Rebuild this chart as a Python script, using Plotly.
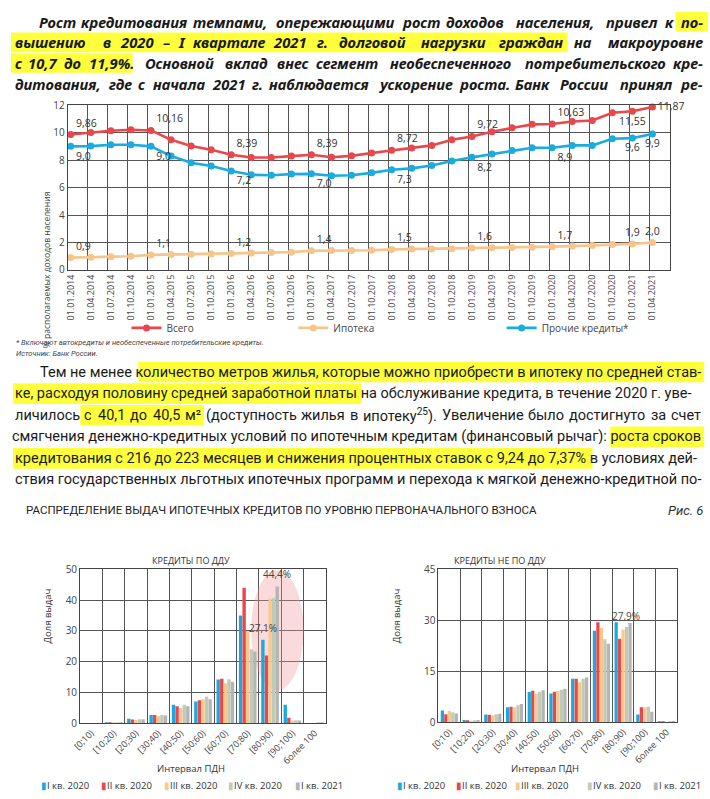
import re
import plotly.graph_objects as go

W, H = 710, 799
def X(p): return p / W
def Y(p): return 1 - p / H

# ---------------- data ----------------
dates = ["01.01.2014", "01.04.2014", "01.07.2014", "01.10.2014",
         "01.01.2015", "01.04.2015", "01.07.2015", "01.10.2015",
         "01.01.2016", "01.04.2016", "01.07.2016", "01.10.2016",
         "01.01.2017", "01.04.2017", "01.07.2017", "01.10.2017",
         "01.01.2018", "01.04.2018", "01.07.2018", "01.10.2018",
         "01.01.2019", "01.04.2019", "01.07.2019", "01.10.2019",
         "01.01.2020", "01.04.2020", "01.07.2020", "01.10.2020",
         "01.01.2021", "01.04.2021"]
total_burden = [9.86, 10.0, 10.14, 10.21, 10.16, 9.48, 9.02, 8.76, 8.39, 8.19,
                8.19, 8.29, 8.39, 8.21, 8.31, 8.52, 8.72, 8.88, 9.07, 9.48,
                9.72, 10.07, 10.36, 10.6, 10.63, 10.81, 10.88, 11.45, 11.55, 11.87]
mortgage_burden = [0.9, 0.93, 0.97, 1.0, 1.1, 1.12, 1.14, 1.16, 1.2, 1.23,
                   1.27, 1.3, 1.4, 1.41, 1.42, 1.44, 1.5, 1.52, 1.53, 1.55,
                   1.6, 1.62, 1.64, 1.66, 1.7, 1.74, 1.78, 1.85, 1.9, 2.0]
other_burden = [9.0, 9.02, 9.12, 9.12, 9.0, 8.29, 7.81, 7.57, 7.2, 6.93,
                6.9, 6.98, 7.0, 6.86, 6.9, 7.07, 7.3, 7.4, 7.6, 7.93,
                8.2, 8.45, 8.69, 8.9, 8.9, 9.07, 9.07, 9.55, 9.6, 9.9]
label_idx = [0, 4, 8, 12, 16, 20, 24, 28, 29]

pdn_bins = ["[0;10)", "[10;20)", "[20;30)", "[30;40)", "[40;50)", "[50;60)",
            "[60;70)", "[70;80)", "[80;90)", "[90;100)", "более 100"]
quarters = ["I кв. 2020", "II кв. 2020", "III кв. 2020", "IV кв. 2020", "I кв. 2021"]

ddu_q1_2020 = [0.0, 0.3, 1.5, 2.7, 6.0, 7.1, 14.2, 35.0, 27.1, 6.0, 0.0]
ddu_q2_2020 = [0.0, 0.3, 1.2, 2.7, 5.5, 7.5, 14.5, 44.0, 22.0, 1.8, 0.0]
ddu_q3_2020 = [0.0, 0.2, 1.1, 2.4, 5.0, 7.8, 13.0, 30.0, 40.4, 0.8, 0.0]
ddu_q4_2020 = [0.0, 0.2, 1.3, 2.7, 6.0, 8.6, 14.3, 24.0, 40.6, 1.0, 0.1]
ddu_q1_2021 = [0.0, 0.2, 1.3, 2.5, 5.5, 7.8, 13.5, 23.3, 44.4, 0.9, 0.1]

nonddu_q1_2020 = [3.5, 0.7, 2.3, 4.4, 8.9, 8.5, 12.8, 26.9, 29.4, 2.3, 0.1]
nonddu_q2_2020 = [2.4, 0.6, 2.2, 4.6, 9.3, 9.0, 12.8, 29.4, 24.6, 4.4, 0.1]
nonddu_q3_2020 = [3.3, 0.5, 2.1, 4.4, 8.4, 9.2, 11.8, 27.8, 27.2, 4.4, 0.0]
nonddu_q4_2020 = [3.0, 0.6, 2.4, 5.0, 9.0, 9.6, 12.8, 24.4, 28.0, 4.6, 0.1]
nonddu_q1_2021 = [2.6, 0.7, 2.5, 5.4, 9.4, 9.9, 13.2, 23.1, 29.2, 3.1, 0.4]

top_paragraph = [
    "Рост кредитования темпами, опережающими рост доходов населения, привел к по-",
    "вышению в 2020 – I квартале 2021 г. долговой нагрузки граждан на макроуровне",
    "с 10,7 до 11,9%. Основной вклад внес сегмент необеспеченного потребительского кре-",
    "дитования, где с начала 2021 г. наблюдается ускорение роста. Банк России принял ре-",
]
mid_paragraph = [
    "Тем не менее количество метров жилья, которые можно приобрести в ипотеку по средней став-",
    "ке, расходуя половину средней заработной платы на обслуживание кредита, в течение 2020 г. уве-",
    "личилось с 40,1 до 40,5 м² (доступность жилья в ипотеку<sup>25</sup>). Увеличение было достигнуто за счет",
    "смягчения денежно-кредитных условий по ипотечным кредитам (финансовый рычаг): роста сроков",
    "кредитования с 216 до 223 месяцев и снижения процентных ставок с 9,24 до 7,37% в условиях дей-",
    "ствия государственных льготных ипотечных программ и перехода к мягкой денежно-кредитной по-",
]

# ---------------- styles ----------------
RED, BLUE, ORANGE = "#E8474C", "#1BACDF", "#F6C58C"
BAR_COLORS = ["#1BA9DD", "#E8474C", "#FAC88C", "#BFCBB9", "#B4B4B4"]
GRID = "#555555"
TXT = "#333333"
CHART_FONT = "Open Sans, Noto Sans, sans-serif"

def fmt(v, nd):
    return f"{v:.{nd}f}".replace(".", ",")

fig = go.Figure()

line_specs = [
    (total_burden, "Всего", RED, 2, "legend",
     ["top right"] * 7 + ["bottom center", "middle right"]),
    (mortgage_burden, "Ипотека", ORANGE, 1, "legend2",
     ["top right"] * 7 + ["top center", "top center"]),
    (other_burden, "Прочие кредиты*", BLUE, 1, "legend3",
     ["bottom right"] * 7 + ["bottom center", "bottom center"]),
]
xs = list(range(len(dates)))
for vals, name, color, nd, leg, poslist in line_specs:
    texts = [fmt(v, nd) if i in label_idx else "" for i, v in enumerate(vals)]
    pos = ["top center"] * len(vals)
    for k, i in enumerate(label_idx):
        pos[i] = poslist[k]
    fig.add_trace(go.Scatter(
        x=xs, y=vals, name=name, mode="lines+markers+text",
        line=dict(color=color, width=2.6), marker=dict(color=color, size=7),
        text=texts, textposition=pos,
        textfont=dict(size=10.5, color=TXT, family=CHART_FONT),
        cliponaxis=False, legend=leg, xaxis="x", yaxis="y"))

for vals, name, color in zip([ddu_q1_2020, ddu_q2_2020, ddu_q3_2020, ddu_q4_2020, ddu_q1_2021],
                             quarters, BAR_COLORS):
    fig.add_trace(go.Bar(x=pdn_bins, y=vals, name=name, marker_color=color,
                         marker_line_width=0, showlegend=False, xaxis="x2", yaxis="y2"))
for vals, name, color in zip([nonddu_q1_2020, nonddu_q2_2020, nonddu_q3_2020, nonddu_q4_2020, nonddu_q1_2021],
                             quarters, BAR_COLORS):
    fig.add_trace(go.Bar(x=pdn_bins, y=vals, name=name, marker_color=color,
                         marker_line_width=0, showlegend=False, xaxis="x3", yaxis="y3"))

base_axis = dict(showline=True, mirror=True, linecolor="#444", linewidth=1,
                 zeroline=False, ticks="")
tf10 = dict(size=10, color="#444", family=CHART_FONT)
tf9 = dict(size=9, color="#444", family=CHART_FONT)

layout = dict(
    width=W, height=H, margin=dict(l=0, r=0, t=0, b=0, pad=0),
    paper_bgcolor="white", plot_bgcolor="white",
    barmode="group", bargap=0.2, bargroupgap=0.06,
    font=dict(family=CHART_FONT, color=TXT),
    xaxis=dict(domain=[X(59.5), X(669)], range=[-0.15, 29.85], anchor="y",
               tickmode="array", tickvals=xs, ticktext=dates, tickangle=-90,
               showgrid=False, tickfont=tf9,
               minor=dict(tickmode="array", tickvals=[i - 0.15 for i in xs[1:]],
                          showgrid=True, gridcolor=GRID, gridwidth=1, ticks=""),
               **base_axis),
    yaxis=dict(domain=[Y(267), Y(99)], range=[0, 12], dtick=2, anchor="x",
               showgrid=True, gridcolor=GRID, tickfont=tf10, **base_axis),
    xaxis2=dict(domain=[X(72), X(321)], type="category", tickson="boundaries", anchor="y2",
                showgrid=True, gridcolor=GRID, tickangle=-45, tickfont=tf9, **base_axis),
    yaxis2=dict(domain=[Y(729), Y(572)], range=[0, 50], dtick=10, anchor="x2",
                showgrid=True, gridcolor=GRID, tickfont=tf10, **base_axis),
    xaxis3=dict(domain=[X(435), X(677)], type="category", tickson="boundaries", anchor="y3",
                showgrid=True, gridcolor=GRID, tickangle=-45, tickfont=tf9, **base_axis),
    yaxis3=dict(domain=[Y(728), Y(572)], range=[0, 45], dtick=15, anchor="x3",
                showgrid=True, gridcolor=GRID, tickfont=tf10, **base_axis),
)
for key, x0 in (("legend", 119), ("legend2", 288), ("legend3", 499)):
    layout[key] = dict(x=X(x0), y=Y(326), xanchor="left", yanchor="middle",
                       orientation="h", bgcolor="rgba(0,0,0,0)",
                       font=dict(size=10, color="#444", family=CHART_FONT))
fig.update_layout(**layout)

# ---------------- text helpers ----------------
shapes = []
def hl(x0, x1, yc, h=20):
    shapes.append(dict(type="rect", xref="paper", yref="paper",
                       x0=X(x0), x1=X(x1), y0=Y(yc + h / 2), y1=Y(yc - h / 2),
                       fillcolor="#FFFF3C", line_width=0, layer="below"))

ann = []
def txt(x, y, s, size, anchor="left", family=CHART_FONT, color="#1a1a1a", yanchor="middle", **kw):
    ann.append(dict(xref="paper", yref="paper", x=X(x), y=Y(y), text=s, showarrow=False,
                    xanchor=anchor, yanchor=yanchor, borderpad=0, borderwidth=0,
                    font=dict(size=size, family=family, color=color), **kw))

# approximate advance widths (em), used only to justify lines word by word
WID_BI = {" ": .26, ",": .28, ".": .28, ":": .29, "–": .5, "-": .32, "%": .9, "I": .34,
          "Р": .72, "О": .82, "Б": .70,
          "а": .60, "б": .62, "в": .61, "г": .50, "д": .63, "е": .59, "ж": .93, "з": .53,
          "и": .68, "й": .68, "к": .62, "л": .65, "м": .80, "н": .68, "о": .62, "п": .68,
          "р": .63, "с": .51, "т": .53, "у": .57, "ф": .84, "х": .60, "ц": .70, "ч": .65,
          "ш": .98, "щ": 1.0, "ъ": .69, "ы": .90, "ь": .62, "э": .53, "ю": .92, "я": .62}
WID_R = {" ": .25, ",": .2, ".": .26, "(": .34, ")": .35, "²": .37, "У": .62,
         "а": .54, "б": .55, "в": .54, "г": .43, "д": .57, "е": .53, "ж": .77, "з": .50,
         "и": .58, "й": .58, "к": .54, "л": .57, "м": .71, "н": .57, "о": .57, "п": .57,
         "р": .56, "с": .52, "т": .50, "у": .49, "ф": .72, "х": .49, "ц": .58, "ч": .54,
         "ш": .79, "щ": .81, "ъ": .62, "ы": .72, "ь": .52, "э": .52, "ю": .76, "я": .54}

def est(s, size, table):
    total = 0.0
    for part in re.split(r"(<sup>.*?</sup>)", s):
        if part.startswith("<sup>"):
            inner = part[5:-6]
            total += 0.7 * sum(table.get(c, .56 if c.isdigit() else .65) for c in inner)
        else:
            total += sum(table.get(c, .57 if c.isdigit() else .7) for c in part)
    return size * total

def justified(text, x0, x1, y, size, fam, table, wrap=lambda s: s):
    words = text.split(" ")
    ws = [est(w, size, table) for w in words]
    gap = max(est(" ", size, table), (x1 - x0 - sum(ws)) / (len(words) - 1))
    lefts, cur = [], x0
    for w in ws:
        lefts.append(cur)
        cur += w + gap
    for i, (wd, l, w) in enumerate(zip(words, lefts, ws)):
        if i == 0:
            txt(x0, y, wrap(wd), size, "left", fam)
        elif i == len(words) - 1:
            txt(x1, y, wrap(wd), size, "right", fam)
        else:
            txt(l + w / 2, y, wrap(wd), size, "center", fam)
    return words, lefts, ws

P1 = "Noto Sans, sans-serif"
S1 = 14.8
def bi(s):
    return "<b><i>" + s + "</i></b>"

TOP_Y = [14, 35, 56, 77]
TOP_X0 = [30, 6, 6, 6]
lines = [justified(t, x0, 703, y, S1, P1, WID_BI, bi)
         for t, x0, y in zip(top_paragraph, TOP_X0, TOP_Y)]

# highlights of the lead paragraph follow the placed words
w1, l1, s1 = lines[0]
hl(l1[-1] - 4, 708, TOP_Y[0])
w2, l2, s2 = lines[1]
g = w2.index("граждан")
hl(2, l2[g] + s2[g] + 3, TOP_Y[1])
w3, l3, s3 = lines[2]
hl(2, l3[3] + est("11,9%", S1, WID_BI) + 2, TOP_Y[2])

# middle paragraph (regular)
P2 = "Roboto, sans-serif"
S2 = 14.5
mid_pos = [(701, 371, "right"), (6, 393, "left"), None,
           (701, 437, "right"), (6, 459, "left"), (6, 481, "left")]
for p, s in zip(mid_pos, mid_paragraph):
    if p is not None:
        txt(p[0], p[1], s, S2, p[2], P2)
mw, ml, ms = justified(mid_paragraph[2], 6, 701, 415, S2, P2, WID_R)
hl(131, 704, 371, 21)
hl(4, 357, 393, 21)
hl(ml[1] - 4, ml[5] + ms[5] + 3, 415, 21)
hl(609, 704, 437, 21)
hl(4, 591, 459, 21)

# ellipse in DDU chart
shapes.append(dict(type="circle", xref="x2", yref="y2", x0=7.15, x1=9.5, y0=10.8, y1=49.7,
                   fillcolor="rgba(240,150,150,0.35)", line_width=0, layer="between"))
fig.update_layout(shapes=shapes)

# footnotes
txt(7, 341, "<i>* Включают автокредиты и необеспеченные потребительские кредиты.</i>", 7.5, family=P2, color="#444")
txt(7, 352, "<i>Источник: Банк России.</i>", 7.5, family=P2, color="#444")

# line chart y title
ann.append(dict(xref="paper", yref="paper", x=X(30), y=Y(185), text="% располагаемых доходов населения",
                showarrow=False, textangle=-90, font=dict(size=8.5, color="#444", family=CHART_FONT)))

# section title
txt(17, 512, "РАСПРЕДЕЛЕНИЕ ВЫДАЧ ИПОТЕЧНЫХ КРЕДИТОВ ПО УРОВНЮ ПЕРВОНАЧАЛЬНОГО ВЗНОСА", 11.5,
    family="Roboto, sans-serif", color="#222")
txt(703, 512, "<i>Рис. 6</i>", 13, "right", family=P2, color="#333")

# bar chart titles / axis titles
txt(184, 563, "КРЕДИТЫ ПО ДДУ", 9, "center", color="#333")
txt(497, 563, "КРЕДИТЫ НЕ ПО ДДУ", 9, "center", color="#333")
txt(184, 775, "Интервал ПДН", 9.5, "center", color="#333")
txt(543, 775, "Интервал ПДН", 9.5, "center", color="#333")
for xx in (30, 392):
    ann.append(dict(xref="paper", yref="paper", x=X(xx), y=Y(650), text="Доля выдач",
                    showarrow=False, textangle=-90, font=dict(size=9.5, color="#333", family=CHART_FONT)))

# bar value labels
ann.append(dict(xref="x2", yref="y2", x=8.3, y=48.4, text="44,4%", showarrow=False,
                font=dict(size=10, color="#444", family=CHART_FONT)))
ann.append(dict(xref="x2", yref="y2", x=7.7, y=31.0, text="27,1%", showarrow=False,
                font=dict(size=10, color="#444", family=CHART_FONT)))
ann.append(dict(xref="x3", yref="y3", x=8.15, y=31.2, text="27,9%", showarrow=False,
                font=dict(size=10, color="#444", family=CHART_FONT)))

# bar legends (glyph + text)
for xs_leg in ([32, 93, 157, 222, 290], [393, 453, 512, 585, 652]):
    for x0, q, c in zip(xs_leg, quarters, BAR_COLORS):
        txt(x0, 792, f'<span style="color:{c}">▮</span>{q}', 9.5, color="#333")

fig.update_layout(annotations=ann)

fig.write_html("out.html", config={"displayModeBar": False},
               post_script="document.body.style.margin='0';document.body.style.overflow='hidden';")
